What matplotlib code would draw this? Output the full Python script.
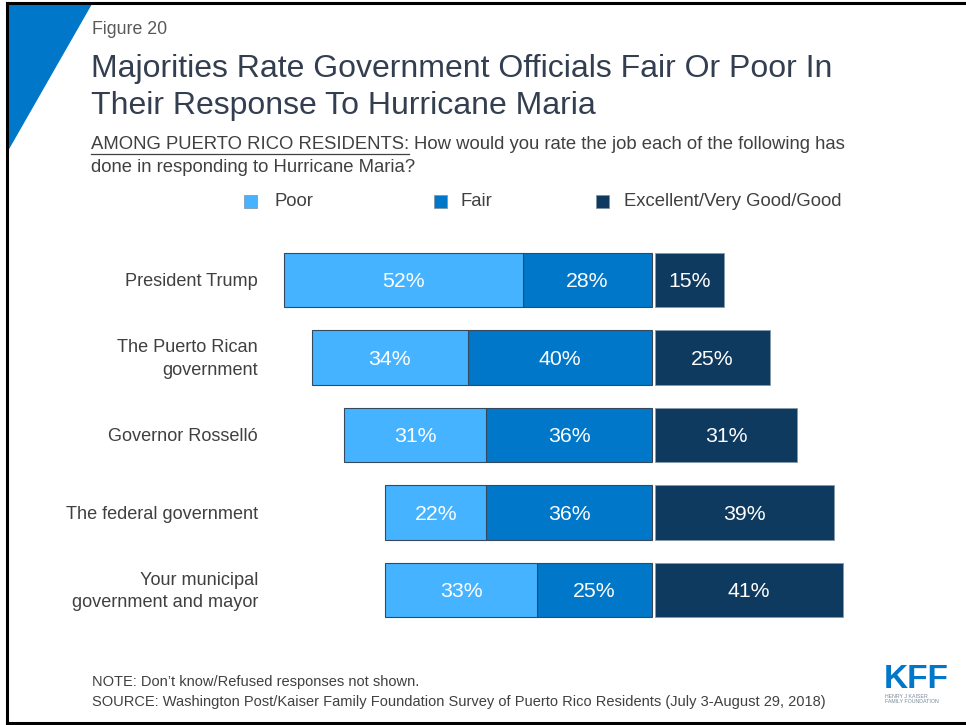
import numpy as np
import matplotlib.pyplot as plt
from matplotlib.patches import Polygon
from matplotlib.lines import Line2D

W, H = 966, 725

groups = ["President Trump", "The Puerto Rican\ngovernment", "Governor Rosselló",
          "The federal government", "Your municipal\ngovernment and mayor"]
poor = [52, 34, 31, 22, 33]
fair = [28, 40, 36, 36, 25]
good = [15, 25, 31, 39, 41]
legend_labels = ["Poor", "Fair", "Excellent/Very Good/Good"]

C_POOR = "#45b3ff"
C_FAIR = "#0077c8"
C_GOOD = "#0f3a5f"
TXT = "#404040"
TITLE = "#333f50"

plt.rcParams['font.family'] = ['Liberation Sans', 'DejaVu Sans']


def fx(x):
    return x / W


def fy(y):
    return 1 - y / H


fig = plt.figure(figsize=(W / 100, H / 100), dpi=100)

# frame lines (left, top, bottom) and the corner triangle
for xs, ys in [((6.5, 6.5), (2.5, 722.5)), ((6.5, 966), (2.5, 2.5)), ((6.5, 966), (722.5, 722.5))]:
    fig.add_artist(Line2D([fx(v) for v in xs], [fy(v) for v in ys], color="black",
                          lw=2.2, transform=fig.transFigure))
fig.add_artist(Polygon([(fx(8), fy(4)), (fx(92), fy(4)), (fx(8), fy(151))], closed=True,
                       color=C_FAIR, transform=fig.transFigure, lw=0))

fig.text(fx(92), fy(30), "Figure 20", fontsize=12.8, color="#595959", va="center")
fig.text(fx(91), fy(69), "Majorities Rate Government Officials Fair Or Poor In",
         fontsize=23, color=TITLE, va="center")
fig.text(fx(91), fy(106), "Their Response To Hurricane Maria",
         fontsize=23, color=TITLE, va="center")

sub_head = fig.text(fx(91), fy(144.5), "AMONG PUERTO RICO RESIDENTS:", fontsize=13.3,
                    color=TXT, va="center")
fig.canvas.draw()
bb = sub_head.get_window_extent()
fig.add_artist(Line2D([fx(91), fx(91) + bb.width / W], [fy(153.5), fy(153.5)], color=TXT,
                      lw=0.9, transform=fig.transFigure))
fig.text(fx(91) + bb.width / W + fx(5),
         fy(144.5), "How would you rate the job each of the following has",
         fontsize=13.3, color=TXT, va="center")
fig.text(fx(91), fy(167), "done in responding to Hurricane Maria?", fontsize=13.3,
         color=TXT, va="center")

# legend
for (sx, tx), lab, col in zip([(244, 275), (434, 461), (596, 624)], legend_labels,
                              [C_POOR, C_FAIR, C_GOOD]):
    fig.add_artist(plt.Rectangle((fx(sx), fy(208)), fx(13), 13 / H, facecolor=col,
                                 edgecolor="#7f8f9f", lw=0.5, transform=fig.transFigure))
    fig.text(fx(tx), fy(201.5), lab, fontsize=13.3, color=TXT, va="center")

# bars: negative side is poor + fair, positive side starts just past a small gap
px_per_pct = 4.6
left_px, right_px = 270, 905
center_px = 652
gap = 0.6
ax = fig.add_axes([fx(left_px), fy(628.75), (right_px - left_px) / W, (628.75 - 241.25) / H])
ax.set_xlim((left_px - center_px) / px_per_pct, (right_px - center_px) / px_per_pct)
ax.set_ylim(len(groups) - 0.5, -0.5)
ax.axis("off")

y = np.arange(len(groups))
poor_a = np.array(poor)
fair_a = np.array(fair)
good_a = np.array(good)
h = 0.70
ax.barh(y, -fair_a, height=h, color=C_FAIR, edgecolor="#34495e", lw=0.8)
ax.barh(y, -poor_a, left=-fair_a, height=h, color=C_POOR, edgecolor="#34495e", lw=0.8)
ax.barh(y, good_a, left=gap, height=h, color=C_GOOD, edgecolor="#8799ab", lw=0.6)

lab_dy = 0.02
for i in range(len(groups)):
    ax.text(-fair_a[i] - poor_a[i] / 2, y[i] + lab_dy, f"{poor[i]}%", color="white",
            fontsize=15.3, ha="center", va="center")
    ax.text(-fair_a[i] / 2, y[i] + lab_dy, f"{fair[i]}%", color="white", fontsize=15.3,
            ha="center", va="center")
    ax.text(gap + good_a[i] / 2, y[i] + lab_dy, f"{good[i]}%", color="white", fontsize=15.3,
            ha="center", va="center")
    ax.text((258 - center_px) / px_per_pct, y[i] + lab_dy, groups[i], color=TXT,
            fontsize=13.1, ha="right", va="center", linespacing=1.4)

fig.text(fx(92), fy(682), "NOTE: Don\u2019t know/Refused responses not shown.", fontsize=10.5,
         color=TXT, va="center")
fig.text(fx(92), fy(702), "SOURCE: Washington Post/Kaiser Family Foundation Survey of Puerto "
         "Rico Residents (July 3-August 29, 2018)", fontsize=10.5, color=TXT, va="center")

# KFF mark
fig.text(fx(884), fy(679), "KFF", fontsize=24, fontweight="bold", color=C_FAIR,
         va="center", ha="left")
fig.text(fx(885), fy(699), "HENRY J KAISER\nFAMILY FOUNDATION", fontsize=3.8,
         color="#7a8a9a", va="center", ha="left", linespacing=1.1)

fig.savefig("out.png", dpi=100)
